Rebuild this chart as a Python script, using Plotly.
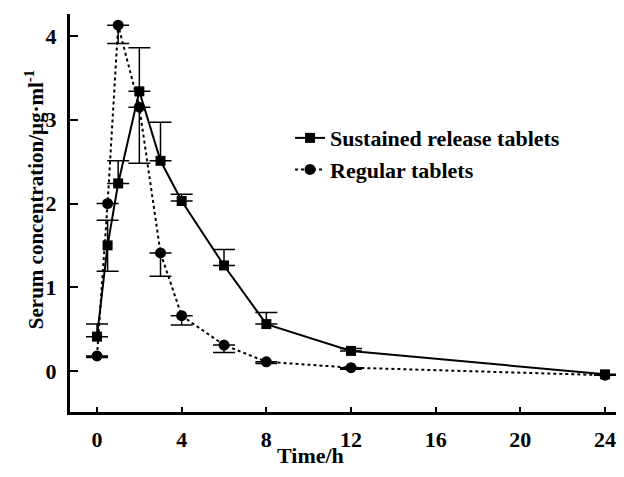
import plotly.graph_objects as go

time_h = [0, 0.5, 1, 2, 3, 4, 6, 8, 12, 24]
sustained = [0.41, 1.50, 2.24, 3.34, 2.51, 2.03, 1.26, 0.56, 0.24, -0.04]
sustained_err_up = [0.15, 0.30, 0.27, 0.52, 0.46, 0.08, 0.19, 0.14, 0.03, 0.0]
sustained_err_down = [0, 0.31, 0, 0, 0, 0, 0, 0, 0, 0]
regular = [0.18, 2.00, 4.13, 3.15, 1.41, 0.66, 0.31, 0.11, 0.04, -0.05]
regular_err_down = [0.02, 0.0, 0.22, 0.67, 0.28, 0.11, 0.09, 0.02, 0.02, 0.0]
x_ticks = [0, 4, 8, 12, 16, 20, 24]
y_ticks = [0, 1, 2, 3, 4]

FONT = "Liberation Serif"

fig = go.Figure()
fig.add_trace(go.Scatter(
    x=time_h, y=sustained, name="Sustained release tablets", mode="lines+markers",
    line=dict(color="black", width=2, dash="solid"),
    marker=dict(symbol="square", size=10, color="black"),
    error_y=dict(type="data", array=sustained_err_up, arrayminus=sustained_err_down,
                 symmetric=False, color="black", thickness=1.5, width=11),
))
fig.add_trace(go.Scatter(
    x=time_h, y=regular, name="Regular tablets", mode="lines+markers",
    line=dict(color="black", width=2, dash="dot"),
    marker=dict(symbol="circle", size=11, color="black"),
    error_y=dict(type="data", array=[0]*len(time_h), arrayminus=regular_err_down,
                 symmetric=False, color="black", thickness=1.5, width=11),
))

fig.update_layout(
    width=608, height=461,
    margin=dict(l=62, r=0, t=6, b=57),
    paper_bgcolor="white", plot_bgcolor="white",
    font=dict(family=FONT, size=22, color="black", weight="bold"),
    showlegend=True,
    legend=dict(x=0.403, y=0.741, xanchor="left", yanchor="top",
                font=dict(family=FONT, size=22, color="black", weight="bold"),
                bgcolor="rgba(0,0,0,0)", itemwidth=30, tracegroupgap=0),
    xaxis=dict(range=[-1.276, 24.52], tickvals=x_ticks, ticktext=[str(v) for v in x_ticks],
               showline=True, linecolor="black", linewidth=3, ticks="inside",
               ticklen=5, tickwidth=1.5, tickcolor="black", showgrid=False, zeroline=False,
               automargin=False, ticklabelstandoff=6, ticklabeloverflow="allow",
               tickfont=dict(family=FONT, size=22, color="black", weight="bold")),
    yaxis=dict(range=[-0.4896, 4.263], tickvals=y_ticks, ticktext=[str(v) for v in y_ticks],
               showline=True, linecolor="black", linewidth=3, ticks="inside",
               ticklen=8, tickwidth=1.5, tickcolor="black", showgrid=False, zeroline=False,
               automargin=False, ticklabelstandoff=6,
               tickfont=dict(family=FONT, size=22, color="black", weight="bold")),
    annotations=[
        dict(text="Time/h", xref="paper", yref="paper", x=0.44, y=-0.11,
             xanchor="center", yanchor="middle", showarrow=False,
             font=dict(family=FONT, size=22, color="black", weight="bold")),
        dict(text="Serum concentration/μg·ml<sup>-1</sup>", xref="paper", yref="paper",
             x=-0.0636, y=0.533, xanchor="center", yanchor="middle", textangle=-90,
             showarrow=False,
             font=dict(family=FONT, size=21, color="black", weight="bold")),
    ],
)

fig.write_html("out.html")
